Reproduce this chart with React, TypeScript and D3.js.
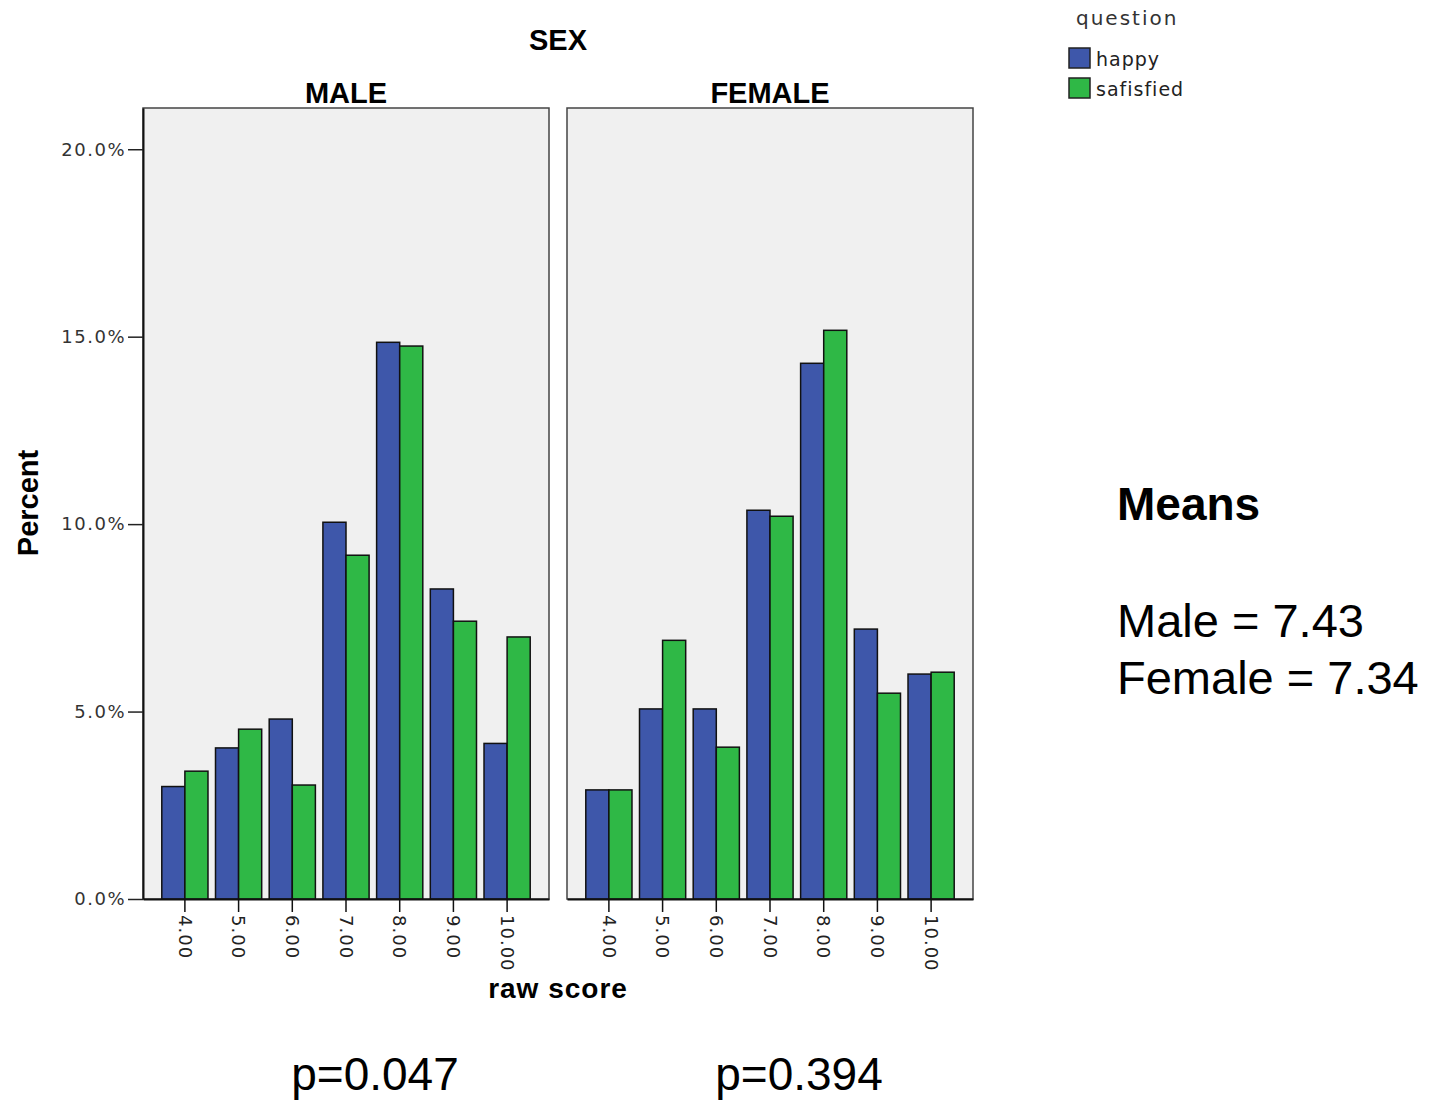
import React, { useEffect, useRef } from "react";
import * as d3 from "d3";

// raw score categories
const scores = ["4.00", "5.00", "6.00", "7.00", "8.00", "9.00", "10.00"];
const questions = ["happy", "safisfied"];
const panels = ["MALE", "FEMALE"];

// percent values
const maleHappy = [3.0, 4.03, 4.8, 10.05, 14.85, 8.27, 4.15];
const maleSatisfied = [3.41, 4.53, 3.04, 9.17, 14.75, 7.41, 6.99];
const femaleHappy = [2.91, 5.07, 5.07, 10.37, 14.29, 7.2, 6.0];
const femaleSatisfied = [2.91, 6.9, 4.05, 10.21, 15.17, 5.49, 6.05];

const yTicks = [0, 5, 10, 15, 20];
const pValues = ["p=0.047", "p=0.394"];
const meansTitle = "Means";
const meansLines = ["Male = 7.43", "Female = 7.34"];

const W = 1429;
const H = 1100;
const colors = { happy: "#3e57aa", safisfied: "#2fb846" };
const tickFont = "'DejaVu Sans', Verdana, sans-serif";
const boldFont = "'Liberation Sans', Arial, sans-serif";

const App = () => {
  const ref = useRef<SVGSVGElement>(null);

  useEffect(() => {
    const svg = d3.select(ref.current);
    svg.selectAll("*").remove();

    const top = 108;
    const bottom = 899;
    const panelX = [[143, 549], [567, 973]];
    const series = [
      [maleHappy, maleSatisfied],
      [femaleHappy, femaleSatisfied],
    ];

    const y = d3.scaleLinear().domain([0, 21.1]).range([bottom, top]);

    // titles
    svg.append("text")
      .attr("x", 558).attr("y", 50)
      .attr("text-anchor", "middle")
      .style("font-family", boldFont).style("font-weight", "bold")
      .style("font-size", "29px").text("SEX");

    panels.forEach((name, pi) => {
      const [x0, x1] = panelX[pi];
      const x = d3.scaleBand().domain(scores).range([x0, x1])
        .paddingInner(0.14).paddingOuter(0.35);
      const xs = d3.scaleBand().domain(questions).range([0, x.bandwidth()]);

      const g = svg.append("g");

      g.append("rect")
        .attr("x", x0).attr("y", top)
        .attr("width", x1 - x0).attr("height", bottom - top)
        .attr("fill", "#f0f0f0")
        .attr("stroke", "#444").attr("stroke-width", 1.5);

      g.append("text")
        .attr("x", (x0 + x1) / 2).attr("y", 103)
        .attr("text-anchor", "middle")
        .style("font-family", boldFont).style("font-weight", "bold")
        .style("font-size", "29px").text(name);

      questions.forEach((q, qi) => {
        g.selectAll(`.bar-${qi}`)
          .data(series[pi][qi])
          .join("rect")
          .attr("class", `bar-${qi}`)
          .attr("x", (d, i) => x(scores[i])! + xs(q)!)
          .attr("y", d => y(d))
          .attr("width", xs.bandwidth())
          .attr("height", d => bottom - y(d))
          .attr("fill", colors[q as keyof typeof colors])
          .attr("stroke", "#111")
          .attr("stroke-width", 1.5);
      });

      // x axis
      const ax = g.append("g")
        .attr("transform", `translate(0,${bottom})`)
        .call(d3.axisBottom(x).tickSize(13).tickSizeOuter(0));
      ax.select(".domain").attr("stroke", "#111").attr("stroke-width", 2);
      ax.selectAll(".tick line").attr("stroke", "#111").attr("stroke-width", 1.5);
      ax.selectAll(".tick text")
        .attr("transform", "rotate(90)")
        .attr("x", 16).attr("y", 0).attr("dy", "0.35em")
        .attr("text-anchor", "start")
        .style("font-family", tickFont).style("font-size", "18px")
        .style("letter-spacing", "1px").attr("fill", "#222");

      if (pi === 0) {
        const ay = g.append("g")
          .attr("transform", `translate(${x0},0)`)
          .call(d3.axisLeft(y).tickValues(yTicks).tickSize(15).tickSizeOuter(0)
            .tickFormat(d => `${(+d).toFixed(1)}%`));
        ay.select(".domain").attr("stroke", "#111").attr("stroke-width", 2);
        ay.selectAll(".tick line").attr("stroke", "#222").attr("stroke-width", 1.5);
        ay.selectAll(".tick text")
          .attr("x", -17)
          .style("font-family", tickFont).style("font-size", "18px")
          .style("letter-spacing", "1.5px").attr("fill", "#333");
      }
    });

    svg.append("text")
      .attr("transform", "translate(38,503) rotate(-90)")
      .attr("text-anchor", "middle")
      .style("font-family", boldFont).style("font-weight", "bold")
      .style("font-size", "29px").text("Percent");

    svg.append("text")
      .attr("x", 558).attr("y", 998)
      .attr("text-anchor", "middle")
      .style("font-family", boldFont).style("font-weight", "bold")
      .style("font-size", "28px").style("letter-spacing", "1px")
      .text("raw score");

    // legend
    const legend = svg.append("g").attr("transform", "translate(1069,0)");
    legend.append("text")
      .attr("x", 7).attr("y", 25)
      .style("font-family", tickFont).style("font-size", "20px")
      .style("letter-spacing", "2px").attr("fill", "#333")
      .text("question");
    questions.forEach((q, i) => {
      legend.append("rect")
        .attr("x", 0).attr("y", 48 + i * 30)
        .attr("width", 21).attr("height", 20)
        .attr("fill", colors[q as keyof typeof colors])
        .attr("stroke", "#222").attr("stroke-width", 1.5);
      legend.append("text")
        .attr("x", 27).attr("y", 66 + i * 30)
        .style("font-family", tickFont).style("font-size", "19px")
        .style("letter-spacing", "1px").attr("fill", "#222")
        .text(q);
    });

    // annotations
    svg.append("text")
      .attr("x", 1117).attr("y", 520)
      .style("font-family", boldFont).style("font-weight", "bold")
      .style("font-size", "46px").text(meansTitle);
    meansLines.forEach((t, i) => {
      svg.append("text")
        .attr("x", 1117).attr("y", 637 + i * 57)
        .style("font-family", boldFont)
        .style("font-size", "47px").text(t);
    });
    pValues.forEach((t, i) => {
      svg.append("text")
        .attr("x", [375, 799][i]).attr("y", 1090)
        .attr("text-anchor", "middle")
        .style("font-family", boldFont)
        .style("font-size", "46px").text(t);
    });
  }, []);

  return (
    <svg ref={ref} width={W} height={H}
      style={{ position: "absolute", left: 0, top: 0, background: "#fff" }} />
  );
};

export default App;
